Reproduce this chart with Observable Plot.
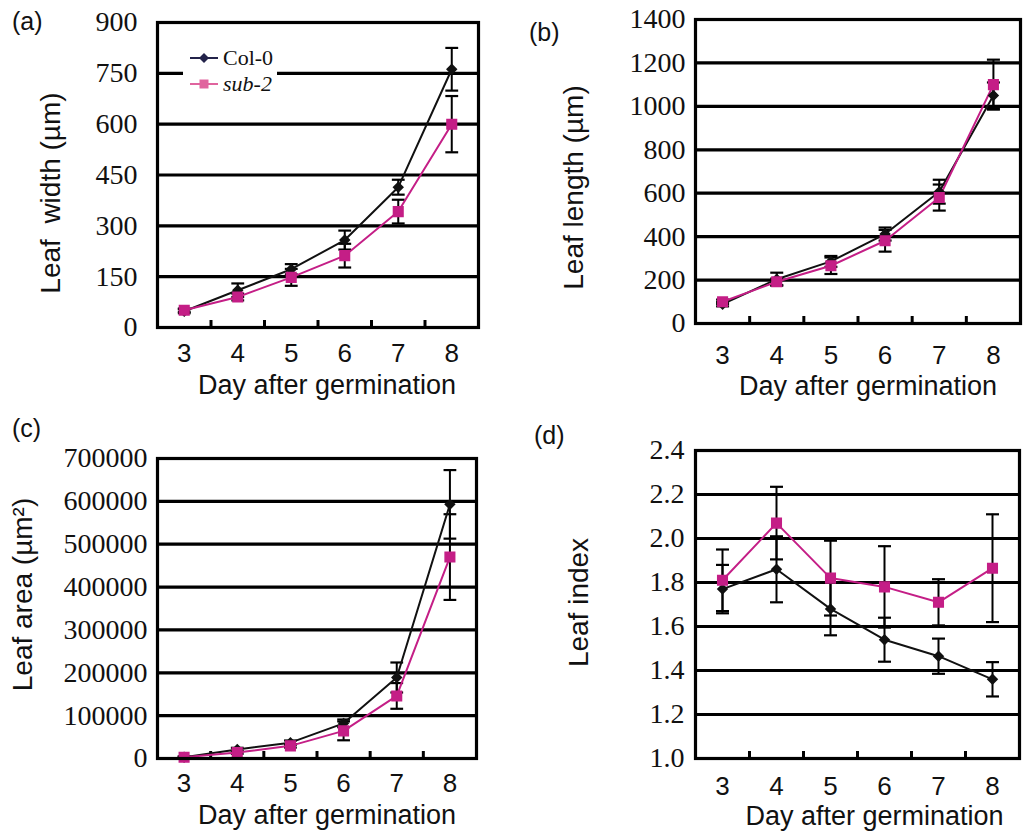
<!DOCTYPE html>
<html><head><meta charset="utf-8">
<script src="https://cdn.jsdelivr.net/npm/d3@7"></script>
<script src="https://cdn.jsdelivr.net/npm/@observablehq/plot@0.6"></script>
<style>
body{margin:0;background:#fff;}
#root{position:relative;width:1023px;height:836px;overflow:hidden;background:#fff;}
.panel{position:absolute;}
.letter{position:absolute;font-family:"Liberation Sans",Arial,sans-serif;font-size:25px;line-height:1;color:#111;}
.legend{position:absolute;background:#fff;font-family:"Liberation Serif","Times New Roman",serif;font-size:22px;line-height:26px;color:#111;padding:2px 4px 2px 6px;}
.legend div{display:flex;align-items:center;height:26px;}
.legend svg{margin-right:4px;}
</style></head><body><div id="root"></div>
<script>
// ---- data ----
const days = [3, 4, 5, 6, 7, 8];
const dayBounds = [3.5, 4.5, 5.5, 6.5, 7.5];
const seriesNames = ["Col-0", "sub-2"];
const seriesColors = ["#111111", "#c41e86"];
const xTitle = "Day after germination";

// (a) leaf width (µm)
const widthCol = [48, 110, 172, 258, 414, 762];
const widthColErr = [6, 20, 15, 28, 22, 63];
const widthSub = [51, 90, 148, 212, 342, 600];
const widthSubErr = [5, 10, 25, 35, 35, 83];
const widthTicks = [0, 150, 300, 450, 600, 750, 900];

// (b) leaf length (µm)
const lengthCol = [89, 204, 286, 412, 607, 1050];
const lengthColErr = [10, 30, 25, 30, 55, 60];
const lengthSub = [100, 192, 266, 381, 580, 1100];
const lengthSubErr = [10, 15, 38, 50, 60, 115];
const lengthTicks = [0, 200, 400, 600, 800, 1000, 1200, 1400];

// (c) leaf area (µm²)
const areaCol = [3000, 21000, 37000, 82000, 189000, 593000];
const areaColErr = [1500, 4000, 5000, 9000, 35000, 80000];
const areaSub = [3000, 14000, 29500, 64500, 146000, 470000];
const areaSubErr = [1500, 3000, 4000, 22000, 30000, 100000];
const areaTicks = [0, 100000, 200000, 300000, 400000, 500000, 600000, 700000];

// (d) leaf index
const indexCol = [1.77, 1.86, 1.68, 1.54, 1.465, 1.36];
const indexColErr = [0.11, 0.15, 0.12, 0.10, 0.08, 0.078];
const indexSub = [1.81, 2.07, 1.82, 1.78, 1.71, 1.865];
const indexSubErr = [0.14, 0.165, 0.17, 0.185, 0.105, 0.245];
const indexTicks = [1.0, 1.2, 1.4, 1.6, 1.8, 2.0, 2.2, 2.4];

const SERIF = "Liberation Serif, Times New Roman, serif";
const SANS = "Liberation Sans, Arial, sans-serif";

function build(cfg) {
  const rows = [];
  seriesNames.forEach((s, i) => days.forEach((d, j) =>
    rows.push({series: s, day: d, value: cfg.values[i][j], err: cfg.errors[i][j]})));
  const innerH = cfg.height - cfg.marginTop - cfg.marginBottom;
  const hi = d => d.value + d.err, lo = d => d.value - d.err;
  const capL = d => d.day - 0.12, capR = d => d.day + 0.12;
  return Plot.plot({
    width: cfg.width, height: cfg.height,
    marginLeft: cfg.marginLeft, marginRight: cfg.marginRight,
    marginTop: cfg.marginTop, marginBottom: cfg.marginBottom,
    style: {background: "transparent", overflow: "visible", color: "#111"},
    x: {domain: [2.5, 8.5]},
    y: {domain: [cfg.ticks[0], cfg.ticks[cfg.ticks.length - 1]]},
    color: {domain: seriesNames, range: seriesColors},
    marks: [
      Plot.ruleY(cfg.ticks.slice(1, -1), {stroke: "#000", strokeWidth: 3.2}),
      Plot.tickX(dayBounds, {x: d => d, stroke: "#000", strokeWidth: 3, insetTop: innerH - 7}),
      Plot.ruleX(rows, {x: "day", y1: lo, y2: hi, stroke: "#000", strokeWidth: 2}),
      Plot.link(rows, {x1: capL, x2: capR, y1: hi, y2: hi, stroke: "#000", strokeWidth: 2.2}),
      Plot.link(rows, {x1: capL, x2: capR, y1: lo, y2: lo, stroke: "#000", strokeWidth: 2.2}),
      Plot.line(rows, {x: "day", y: "value", z: "series", stroke: "series", strokeWidth: 2}),
      Plot.dot(rows, {filter: d => d.series === "Col-0", x: "day", y: "value", symbol: "diamond2", r: 4.2, fill: "series", stroke: "series"}),
      Plot.dot(rows, {filter: d => d.series === "sub-2", x: "day", y: "value", symbol: "square", r: 5.4, fill: "series", stroke: "series"}),
      Plot.frame({stroke: "#000", strokeWidth: 3.2}),
      Plot.axisY({ticks: cfg.ticks, tickSize: 0, tickPadding: cfg.yPad, tickFormat: cfg.fmt,
        fontSize: 28, fontFamily: SERIF, label: null}),
      Plot.axisX({ticks: days, tickSize: 0, tickPadding: cfg.xPad, tickFormat: d => String(d),
        fontSize: 26, fontFamily: SANS, label: null}),
      // axis titles
      Plot.text([cfg.ylabel], {text: d => d, frameAnchor: "left", rotate: -90, lineAnchor: "top",
        textAnchor: "middle", dx: -cfg.yLabelOffset, dy: cfg.yLabelDy, fontSize: 28, fontFamily: SANS, fill: "#111"}),
      Plot.text([xTitle], {text: d => d, frameAnchor: "bottom", lineAnchor: "middle",
        textAnchor: "middle", dx: cfg.xLabelDx, dy: cfg.xLabelDy, fontSize: 27, fontFamily: SANS, fill: "#111"})
    ]
  });
}

const root = document.getElementById("root");
function place(node, left, top) {
  node.classList.add("panel");
  node.style.left = left + "px";
  node.style.top = top + "px";
  root.appendChild(node);
}
const intFmt = d => String(d);

place(build({width: 512, height: 415, marginLeft: 157, marginRight: 34, marginTop: 22, marginBottom: 88,
  values: [widthCol, widthSub], errors: [widthColErr, widthSubErr], ticks: widthTicks, fmt: intFmt,
  ylabel: "Leaf\u00a0 width (µm)", yPad: 20, yLabelOffset: 117, yLabelDy: 18, xPad: 16, xLabelDx: 9, xLabelDy: 58}), 0, 0);

place(build({width: 511, height: 415, marginLeft: 183, marginRight: 3, marginTop: 19, marginBottom: 92,
  values: [lengthCol, lengthSub], errors: [lengthColErr, lengthSubErr], ticks: lengthTicks, fmt: intFmt,
  ylabel: "Leaf length (µm)", yPad: 10, yLabelOffset: 132, yLabelDy: 16, xPad: 22, xLabelDx: 10, xLabelDy: 63}), 512, 0);

place(build({width: 512, height: 421, marginLeft: 157, marginRight: 36, marginTop: 43, marginBottom: 78,
  values: [areaCol, areaSub], errors: [areaColErr, areaSubErr], ticks: areaTicks, fmt: intFmt,
  ylabel: "Leaf area (µm²)", yPad: 10, yLabelOffset: 145, yLabelDy: -14, xPad: 15, xLabelDx: 10, xLabelDy: 57}), 0, 415);

place(build({width: 511, height: 421, marginLeft: 183, marginRight: 4, marginTop: 35, marginBottom: 78,
  values: [indexCol, indexSub], errors: [indexColErr, indexSubErr], ticks: indexTicks, fmt: d3.format(".1f"),
  ylabel: "Leaf index", yPad: 11, yLabelOffset: 127, yLabelDy: -2, xPad: 18, xLabelDx: 17, xLabelDy: 58}), 512, 415);

// panel letters
[["(a)", 12, 9], ["(b)", 529, 20], ["(c)", 12, 416], ["(d)", 534, 423]].forEach(([t, x, y]) => {
  const el = document.createElement("div");
  el.className = "letter";
  el.textContent = t;
  el.style.left = x + "px";
  el.style.top = y + "px";
  root.appendChild(el);
});

// legend (panel a)
const legend = document.createElement("div");
legend.className = "legend";
legend.style.left = "183px";
legend.style.top = "43px";
const symbols = ["diamond", "square"];
seriesNames.forEach((s, i) => {
  const row = document.createElement("div");
  const ns = "http://www.w3.org/2000/svg";
  const svg = document.createElementNS(ns, "svg");
  svg.setAttribute("width", 30); svg.setAttribute("height", 14);
  const ln = document.createElementNS(ns, "line");
  ln.setAttribute("x1", 1); ln.setAttribute("x2", 29); ln.setAttribute("y1", 7); ln.setAttribute("y2", 7);
  ln.setAttribute("stroke", i === 0 ? "#23234a" : "#e0649e"); ln.setAttribute("stroke-width", 2);
  svg.appendChild(ln);
  const mk = document.createElementNS(ns, "path");
  mk.setAttribute("d", symbols[i] === "diamond" ? "M15,2L20,7L15,12L10,7Z" : "M10.5,2.5H19.5V11.5H10.5Z");
  mk.setAttribute("fill", i === 0 ? "#23234a" : "#e0649e");
  svg.appendChild(mk);
  row.appendChild(svg);
  const tx = document.createElement("span");
  tx.textContent = s;
  if (i === 1) tx.style.fontStyle = "italic";
  row.appendChild(tx);
  legend.appendChild(row);
});
root.appendChild(legend);
</script>
</body></html>
